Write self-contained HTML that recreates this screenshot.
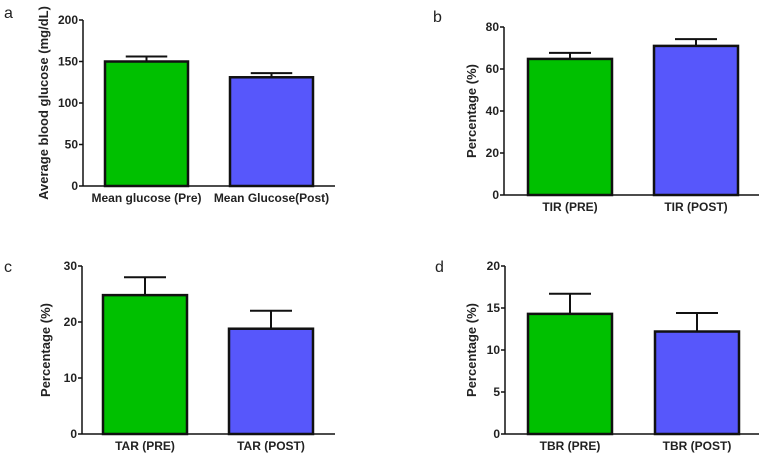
<!DOCTYPE html>
<html><head><meta charset="utf-8"><style>
html,body{margin:0;padding:0;background:#fff;}
svg{display:block;font-family:"Liberation Sans",Arial,sans-serif;}
.t{font-size:12px;font-weight:bold;fill:#222;}
.pl{font-size:16px;fill:#222;}
</style></head><body>
<svg id="fig" width="762" height="453" viewBox="0 0 762 453"></svg>
<script>
const catsA=["Mean glucose (Pre)","Mean Glucose(Post)"];
const valsA=[150,131];
const errA=[6,5];
const ticksA=[0,50,100,150,200];
const catsB=["TIR (PRE)","TIR (POST)"];
const valsB=[64.8,71];
const errB=[2.9,3.2];
const ticksB=[0,20,40,60,80];
const catsC=["TAR (PRE)","TAR (POST)"];
const valsC=[24.8,18.8];
const errC=[3.2,3.2];
const ticksC=[0,10,20,30];
const catsD=["TBR (PRE)","TBR (POST)"];
const valsD=[14.3,12.2];
const errD=[2.4,2.2];
const ticksD=[0,5,10,15,20];

const NS="http://www.w3.org/2000/svg";
const svg=document.getElementById('fig');
const colors=["#00c000","#5757fb"];
function mk(tag,attrs,parent){const e=document.createElementNS(NS,tag);for(const k in attrs)e.setAttribute(k,attrs[k]);(parent||svg).appendChild(e);return e;}

function panel(id,letter,lx,ly,cfg,cats,vals,errs,ticks,ytitle){
  const g=mk('g',{});
  
  
  const max=ticks[ticks.length-1];
  const y=v=>cfg.y0-(v/max)*(cfg.y0-cfg.yTop);
  const L=mk('text',{x:lx,y:ly,class:'pl'},g);L.textContent=letter;
  
  
  const ya=mk('line',{x1:cfg.ax,y1:cfg.yTop,x2:cfg.ax,y2:cfg.y0,stroke:'#111','stroke-width':1.5},g);
  
  
  const xa=mk('line',{x1:cfg.ax,y1:cfg.y0,x2:cfg.axEnd,y2:cfg.y0,stroke:'#111','stroke-width':1.5},g);
  
  
  ticks.forEach(t=>{
    const ty=y(t);
    const tl=mk('line',{x1:cfg.ax-4,y1:ty,x2:cfg.ax,y2:ty,stroke:'#111','stroke-width':1.5},g);
    
    
    const tt=mk('text',{x:cfg.ax-5,y:ty+4,class:'t','text-anchor':'end'},g);tt.textContent=t;
    
    
  });
  const tx=cfg.titleX, tyc=(cfg.y0+cfg.yTop)/2;
  const yt=mk('text',{x:tx,y:tyc,class:'t','text-anchor':'middle',transform:`rotate(-90 ${tx} ${tyc})`,style:'font-size:13px'},g);
  yt.textContent=ytitle;
  
  
  cats.forEach((c,i)=>{
    const x0=cfg.bars[i], w=cfg.bw, cx=x0+w/2;
    const top=y(vals[i]), et=y(vals[i]+errs[i]);
    const el=mk('line',{x1:cx,y1:top,x2:cx,y2:et,stroke:'#111','stroke-width':2},g);
    
    
    const ec=mk('line',{x1:cx-w/4,y1:et,x2:cx+w/4,y2:et,stroke:'#111','stroke-width':2},g);
    
    
    const r=mk('rect',{x:x0,y:top,width:w,height:cfg.y0-top,fill:colors[i],stroke:'#111','stroke-width':2.5},g);
    
    
    const ct=mk('text',{x:cx,y:cfg.y0+16,class:'t','text-anchor':'middle'},g);ct.textContent=c;
    
    
  });
}
panel('a','a',4,18,{ax:83,axEnd:335,y0:186,yTop:20,bars:[105,230],bw:83,titleX:48},catsA,valsA,errA,ticksA,'Average blood glucose (mg/dL)');
panel('b','b',433,22,{ax:504,axEnd:759,y0:195,yTop:27,bars:[528,654],bw:84,titleX:476},catsB,valsB,errB,ticksB,'Percentage (%)');
panel('c','c',4,272,{ax:82,axEnd:335,y0:434,yTop:266,bars:[103,229],bw:84,titleX:50},catsC,valsC,errC,ticksC,'Percentage (%)');
panel('d','d',435,272,{ax:505,axEnd:759,y0:434,yTop:266,bars:[528,655],bw:84,titleX:476},catsD,valsD,errD,ticksD,'Percentage (%)');
</script>
</body></html>
